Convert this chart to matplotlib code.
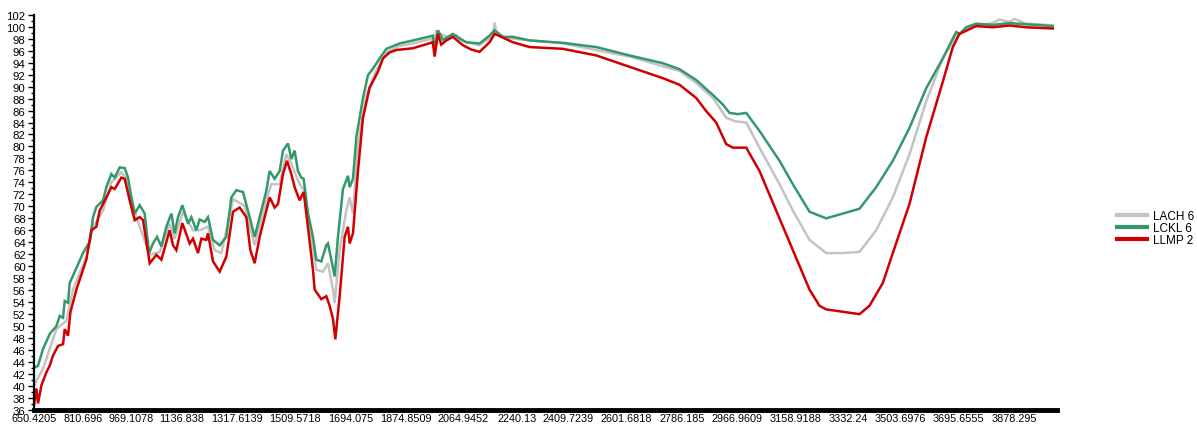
import matplotlib
matplotlib.use("Agg")
import matplotlib.pyplot as plt
from matplotlib.ticker import MultipleLocator, FixedLocator
from matplotlib.transforms import ScaledTranslation

plt.rcParams['font.family'] = ['Liberation Sans', 'DejaVu Sans']

tick_labels = ["650.4205", "810.696", "969.1078", "1136.838", "1317.6139", "1509.5718",
               "1694.075", "1874.8509", "2064.9452", "2240.13", "2409.7239", "2601.6818",
               "2786.185", "2966.9609", "3158.9188", "3332.24", "3503.6976", "3695.6555",
               "3878.295"]
tick_values = [float(t) for t in tick_labels]

series_names = ["LACH 6", "LCKL 6", "LLMP 2"]
series_colors = ["#c3c3c3", "#33996a", "#d10000"]

lach_x = [650.42, 680.2, 724.1, 757.0, 779.0, 822.9, 844.9, 877.8, 905.2, 938.2, 954.6,
          987.6, 1031.5, 1064.4, 1097.3, 1113.8, 1141.2, 1174.2, 1196.1, 1223.6, 1245.5,
          1267.5, 1305.9, 1344.3, 1377.2, 1415.7, 1432.1, 1459.6, 1481.5, 1498.0, 1525.4,
          1541.9, 1558.4, 1580.3, 1602.3, 1618.7, 1635.2, 1640.7, 1657.2, 1679.1, 1690.1,
          1701.1, 1717.5, 1745.0, 1777.9, 1810.8, 1854.7, 1898.6, 1960.0, 1966.0, 1975.0,
          2008.3, 2040.0, 2070.0, 2118.1, 2162.0, 2167.5, 2173.0, 2200.0, 2227.9, 2392.5,
          2612.1, 2776.7, 2831.6, 2886.5, 2930.4, 2960.0, 2996.3, 3040.1, 3106.0, 3149.9,
          3204.8, 3259.6, 3314.5, 3369.4, 3424.3, 3479.2, 3534.1, 3589.0, 3643.8, 3687.7,
          3720.7, 3760.0, 3808.5, 3830.0, 3863.4, 3880.0, 3918.3, 3960.0, 4006.1]
lach_y = [40.1, 42.9, 49.5, 50.9, 56.1, 61.6, 66.6, 69.3, 74.0, 75.7, 74.6,
          68.2, 61.9, 62.4, 67.1, 64.6, 69.1, 66.0, 66.0, 66.6, 62.7,
          62.2, 71.2, 70.1, 63.5, 71.0, 73.7, 73.7, 78.7, 77.1, 73.7,
          72.6, 66.6, 59.4, 59.1, 60.5, 56.1, 53.9, 62.7, 69.3, 71.5,
          68.8, 80.4, 88.6, 92.7, 95.7, 96.8, 97.2, 98.0, 96.5, 99.2,
          98.3, 98.6, 97.5, 96.9, 98.5, 100.7, 98.8, 98.2, 98.0, 97.2,
          95.0, 92.6, 90.6, 88.1, 84.8, 84.2, 84.0, 79.8, 73.7, 69.3,
          64.4, 62.2, 62.2, 62.4, 66.0, 71.5, 78.7, 87.5, 94.7, 98.5,
          99.7, 100.2, 100.6, 101.2, 100.8, 101.3, 100.5, 100.4, 100.2]

lckl_x = [650.42, 663.7, 680.2, 702.2, 724.1, 735.1, 746.1, 751.6, 762.5, 768.0, 790.0,
          811.9, 833.9, 844.9, 855.8, 877.8, 888.8, 905.2, 916.2, 932.7, 949.1, 960.1,
          971.1, 982.1, 998.5, 1015.0, 1029.3, 1042.4, 1055.6, 1069.9, 1086.4, 1102.8,
          1113.8, 1124.8, 1139.0, 1157.7, 1168.7, 1185.1, 1196.1, 1212.6, 1223.6, 1240.0,
          1262.0, 1283.9, 1300.4, 1316.9, 1338.8, 1360.8, 1377.2, 1393.7, 1415.7, 1426.6,
          1443.1, 1459.6, 1470.5, 1487.0, 1498.0, 1508.9, 1519.9, 1530.9, 1538.6, 1552.9,
          1569.3, 1580.3, 1596.8, 1613.2, 1618.7, 1629.7, 1640.7, 1651.7, 1668.1, 1684.6,
          1690.1, 1701.1, 1712.0, 1734.0, 1750.5, 1766.9, 1788.9, 1810.8, 1854.7, 1898.6,
          1964.4, 1969.9, 1980.9, 1997.4, 2030.3, 2052.2, 2074.2, 2118.1, 2151.0, 2167.5,
          2195.0, 2227.9, 2282.8, 2392.5, 2502.3, 2612.1, 2721.8, 2776.7, 2831.6, 2886.5,
          2919.4, 2941.4, 2970.0, 2996.3, 3040.1, 3106.0, 3149.9, 3204.8, 3259.6, 3314.5,
          3369.4, 3424.3, 3479.2, 3534.1, 3589.0, 3643.8, 3687.7, 3700.0, 3720.7, 3753.6,
          3808.5, 3863.4, 3918.3, 4006.1]
lckl_y = [43.0, 43.4, 46.2, 48.7, 50.0, 51.7, 51.4, 54.2, 53.9, 57.2, 59.7,
          62.2, 64.1, 68.2, 69.9, 71.0, 73.2, 75.4, 74.8, 76.5, 76.4, 74.8,
          71.5, 68.8, 70.2, 68.8, 62.2, 63.8, 64.9, 63.3, 66.6, 68.8,
          65.5, 68.2, 70.2, 67.1, 68.2, 66.0, 67.8, 67.4, 68.2, 64.4,
          63.5, 64.9, 71.5, 72.7, 72.4, 68.2, 64.9, 68.2, 72.6, 75.9,
          74.6, 75.9, 79.3, 80.5, 77.9, 79.3, 75.9, 74.8, 74.6, 68.8,
          64.9, 61.1, 60.8, 63.5, 63.8, 61.1, 58.3, 64.9, 72.9, 75.1,
          73.2, 74.6, 81.5, 88.1, 91.9, 93.0, 94.7, 96.3, 97.2, 97.7,
          98.5, 96.0, 99.4, 97.8, 98.8, 98.0, 97.4, 97.2, 98.5, 99.4,
          98.3, 98.3, 97.7, 97.3, 96.6, 95.2, 93.9, 92.9, 91.1, 88.6,
          87.0, 85.6, 85.4, 85.6, 82.6, 77.6, 73.7, 69.1, 68.0, 68.8,
          69.6, 73.2, 77.6, 83.1, 89.7, 94.7, 99.1, 98.8, 99.9, 100.5,
          100.3, 100.6, 100.4, 100.1]

llmp_x = [650.42, 658.2, 663.7, 674.7, 691.2, 702.2, 713.1, 729.6, 746.1, 751.6, 762.5,
          770.2, 790.0, 806.4, 822.9, 839.4, 855.8, 866.8, 888.8, 905.2, 916.2, 938.2,
          949.1, 965.6, 982.1, 998.5, 1009.5, 1031.5, 1053.4, 1069.9, 1097.3, 1108.3,
          1119.3, 1139.0, 1163.2, 1174.2, 1190.6, 1201.6, 1218.1, 1223.6, 1240.0, 1262.0,
          1283.9, 1305.9, 1327.8, 1349.8, 1363.0, 1377.2, 1393.7, 1426.6, 1443.1, 1454.1,
          1470.5, 1483.7, 1498.0, 1508.9, 1525.4, 1538.6, 1547.4, 1569.3, 1574.8, 1596.8,
          1613.2, 1624.2, 1635.2, 1642.9, 1657.2, 1673.6, 1684.6, 1690.1, 1701.1, 1717.5,
          1734.0, 1755.9, 1783.4, 1799.8, 1821.8, 1843.7, 1898.6, 1964.4, 1969.9, 1980.9,
          1991.9, 2008.3, 2030.0, 2063.2, 2090.0, 2118.1, 2151.0, 2167.5, 2227.9, 2282.8,
          2392.5, 2502.3, 2612.1, 2721.8, 2776.7, 2831.6, 2864.6, 2897.5, 2930.4, 2952.4,
          2996.3, 3040.1, 3095.0, 3149.9, 3204.8, 3237.7, 3259.6, 3314.5, 3369.4, 3402.3,
          3446.2, 3479.2, 3534.1, 3589.0, 3643.8, 3676.8, 3698.7, 3753.6, 3808.5, 3863.4,
          3918.3, 4006.1]
llmp_y = [36.8, 39.6, 37.1, 40.1, 42.3, 43.4, 45.1, 46.7, 47.0, 49.5, 48.4,
          52.3, 56.1, 58.6, 61.1, 66.0, 66.6, 69.3, 71.5, 73.2, 72.9, 74.8,
          74.6, 71.0, 67.7, 68.2, 67.7, 60.5, 61.9, 61.1, 66.0, 63.5,
          62.7, 67.2, 63.8, 64.6, 62.2, 64.6, 64.4, 65.5, 60.8, 59.1,
          61.6, 69.1, 69.8, 68.2, 62.7, 60.5, 64.9, 71.5, 69.8, 70.4,
          75.4, 77.6, 75.4, 73.2, 71.0, 72.4, 68.8, 59.4, 56.1, 54.5,
          55.0, 53.4, 51.2, 47.8, 55.0, 64.9, 66.6, 63.8, 65.5, 75.9,
          84.8, 89.8, 92.5, 94.7, 95.7, 96.1, 96.4, 97.4, 95.0, 98.8,
          97.0, 97.7, 98.3, 96.9, 96.2, 95.8, 97.4, 98.8, 97.4, 96.6,
          96.3, 95.2, 93.3, 91.4, 90.3, 88.1, 85.9, 84.0, 80.4, 79.8,
          79.8, 75.9, 69.3, 62.7, 56.1, 53.4, 52.8, 52.4, 52.0, 53.4,
          57.2, 62.2, 70.4, 81.5, 90.8, 96.6, 98.8, 100.1, 99.9, 100.2,
          99.9, 99.7]

series_x = [lach_x, lckl_x, llmp_x]
series_y = [lach_y, lckl_y, llmp_y]

fig = plt.figure(figsize=(11.97, 4.27), dpi=100)
ax = fig.add_axes([34 / 1197, 16 / 427, (1057 - 34) / 1197, (411 - 15.7) / 427])

for name, col, xs, ys in zip(series_names, series_colors, series_x, series_y):
    ax.plot(xs, ys, color=col, lw=1.8, label=name, solid_joinstyle='miter')

ax.set_xlim(650.42, 4020)
ax.set_ylim(36, 102)

ax.xaxis.set_major_locator(FixedLocator(tick_values))
ax.set_xticklabels(tick_labels)
ax.yaxis.set_major_locator(MultipleLocator(2))
ax.yaxis.set_minor_locator(MultipleLocator(1))

ax.tick_params(axis='x', length=0, pad=2.0, labelsize=7.8, colors='black')
ax.tick_params(axis='y', which='major', length=4, width=1, pad=2, labelsize=8.2, direction='out')
ax.tick_params(axis='y', which='minor', length=2.5, width=1, direction='out')

for s in ['top', 'right']:
    ax.spines[s].set_visible(False)
ax.spines['left'].set_linewidth(1.6)
ax.spines['bottom'].set_linewidth(3.5)

leg = fig.legend(loc='upper left', bbox_to_anchor=(1112 / 1197, 1 - 206 / 427),
                 frameon=False, fontsize=8.5, handlelength=2.6, handletextpad=0.45,
                 labelspacing=0.0, borderaxespad=0)
for line in leg.get_lines():
    line.set_linewidth(3)

# nudge the lowest y label ("36") up a little so it clears the first x label
fig.canvas.draw()
first_tick = ax.yaxis.get_major_ticks()[0]
first_tick.label1.set_transform(first_tick.label1.get_transform()
                                + ScaledTranslation(0, 3 / 100, fig.dpi_scale_trans))

fig.savefig("out.png", dpi=100)
